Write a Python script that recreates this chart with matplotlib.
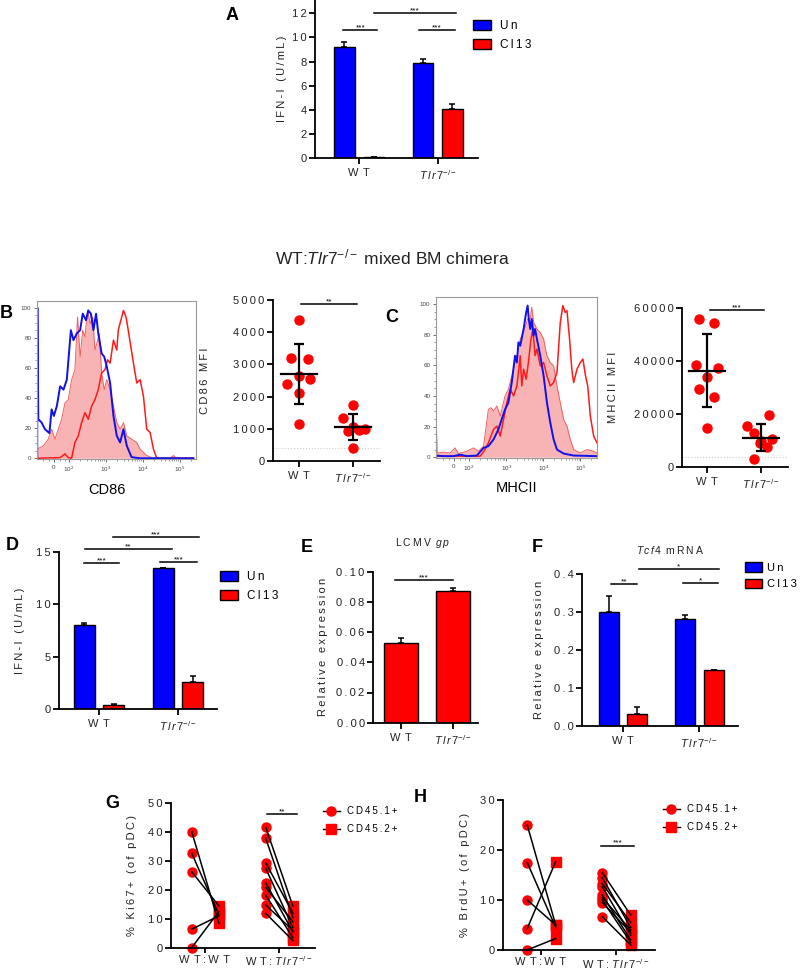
import numpy as np
import matplotlib
matplotlib.use('Agg')
import matplotlib.pyplot as plt
import matplotlib.transforms as mtransforms
from matplotlib.ticker import FuncFormatter
from matplotlib.lines import Line2D
from matplotlib.patches import Patch

plt.rcParams['font.family'] = ['Liberation Sans', 'DejaVu Sans']
plt.rcParams['mathtext.fontset'] = 'custom'
plt.rcParams['mathtext.rm'] = 'Liberation Sans'
plt.rcParams['mathtext.it'] = 'Liberation Sans:italic'
plt.rcParams['mathtext.bf'] = 'Liberation Sans:bold'

BLUE = '#0000ff'
RED = '#ff0000'
TS = '\u2009'
KO = r'$\mathit{T\,l\,r\,7}^{-/-}$'
WT = 'W' + TS + TS + 'T'


def sp(s):
    # GraphPad-style letter spacing
    return TS.join(s)


# ---- data ----
groups = [WT, KO]
pair_groups = [WT + TS + ':' + TS + WT, WT + TS + ':' + TS + KO]

# A: IFN-I (U/mL)
a_un, a_un_err = [9.2, 7.9], [0.4, 0.3]
a_cl, a_cl_err = [0.05, 4.1], [0.03, 0.35]

# B / C flow histograms (x in decades of biexponential axis, y in % of max)
cd86_blue_x = [1.14, 1.145, 1.17, 1.26, 1.35, 1.47, 1.53, 1.59, 1.67, 1.76, 1.85, 1.94, 2.05, 2.12, 2.21, 2.30,
               2.37, 2.46, 2.52, 2.59, 2.66, 2.73, 2.79, 2.88, 2.95, 3.02, 3.11, 3.20, 3.29, 3.38, 3.47, 3.56,
               3.69, 3.92, 5.36]
cd86_blue_y = [0, 100, 25.9, 23.7, 19.3, 16.7, 32.5, 28.1, 34.6, 47.8, 45.6, 52.2, 85.1, 78.5, 82.9, 85.1,
               96.1, 91.7, 98.2, 96.1, 85.1, 96.1, 82.9, 69.7, 67.5, 61.0, 50.0, 28.1, 14.9, 10.5, 19.3, 8.3,
               0.7, 0, 0]
cd86_fill_x = [1.14, 1.31, 1.44, 1.53, 1.62, 1.71, 1.80, 1.89, 1.98, 2.07, 2.16, 2.23, 2.30, 2.37, 2.43, 2.50,
               2.57, 2.64, 2.70, 2.75, 2.82, 2.88, 2.95, 3.02, 3.11, 3.20, 3.29, 3.38, 3.47, 3.56, 3.69, 3.83,
               3.92, 4.10, 4.28, 4.73, 4.82, 4.91, 5.36]
cd86_fill_y = [6.1, 8.3, 12.7, 19.3, 12.7, 19.3, 25.9, 36.8, 39.0, 52.2, 58.8, 93.9, 67.5, 85.1, 80.7, 98.2,
               89.5, 93.9, 71.9, 76.3, 82.9, 56.6, 45.6, 52.2, 45.6, 34.6, 23.7, 19.3, 23.7, 14.9, 12.7, 10.5,
               6.1, 1.8, 0, 0, 1.8, 0, 0]
cd86_red_x = [1.14, 1.76, 1.89, 1.98, 2.07, 2.16, 2.25, 2.34, 2.43, 2.52, 2.61, 2.70, 2.79, 2.88, 2.97, 3.04,
              3.11, 3.20, 3.29, 3.33, 3.40, 3.47, 3.54, 3.60, 3.67, 3.74, 3.83, 3.92, 4.01, 4.10, 4.19, 4.28,
              4.37, 5.36]
cd86_red_y = [0, 0.4, 2.9, 0.4, 0, 10.5, 14.9, 23.7, 30.3, 25.9, 34.6, 39.0, 45.6, 56.6, 58.8, 65.4,
              63.2, 78.5, 71.9, 85.1, 91.7, 98.2, 93.9, 85.1, 74.1, 63.2, 50.0, 52.2, 41.2, 19.3, 17.1, 6.1,
              0, 0]

mhc_blue_x = [1.11, 1.31, 1.58, 1.76, 1.94, 2.21, 2.39, 2.52, 2.66, 2.79, 2.88, 2.97, 3.06, 3.15, 3.24, 3.29,
              3.33, 3.38, 3.47, 3.54, 3.58, 3.61, 3.65, 3.69, 3.74, 3.78, 3.83, 3.92, 4.01, 4.10, 4.19, 4.28,
              4.37, 4.55, 4.82, 5.45]
mhc_blue_y = [1.1, 0.7, 0.7, 1.7, 0.7, 1.1, 6.1, 7.2, 11.6, 18.1, 24.7, 31.2, 35.6, 48.7, 66.2, 61.8,
              74.9, 72.7, 83.6, 94.5, 98.9, 90.2, 83.6, 90.2, 79.3, 83.6, 77.1, 66.2, 53.1, 35.6, 22.5, 11.6,
              5.0, 2.4, 1.1, 0.7]
mhc_fill_x = [1.11, 1.14, 1.31, 1.49, 1.62, 1.71, 1.94, 2.12, 2.25, 2.39, 2.52, 2.59, 2.66, 2.75, 2.84, 2.97,
              3.06, 3.20, 3.29, 3.38, 3.47, 3.58, 3.65, 3.69, 3.74, 3.83, 3.92, 4.01, 4.10, 4.19, 4.28, 4.37,
              4.46, 4.55, 4.64, 4.73, 4.82, 5.00, 5.18, 5.36, 5.45]
mhc_fill_y = [26.9, 2.8, 3.3, 2.8, 6.1, 2.4, 3.9, 6.1, 3.9, 7.2, 31.2, 32.3, 30.1, 33.4, 26.9, 40.0,
              44.3, 57.4, 66.2, 77.1, 81.4, 90.2, 90.2, 97.8, 88.0, 83.6, 81.4, 77.1, 66.2, 61.8, 59.6, 46.5,
              35.6, 24.7, 20.3, 11.6, 5.0, 2.8, 5.0, 3.9, 2.8]
mhc_red_x = [1.11, 2.30, 2.43, 2.52, 2.66, 2.75, 2.84, 2.93, 3.02, 3.11, 3.20, 3.29, 3.38, 3.42, 3.47, 3.54,
             3.60, 3.67, 3.72, 3.78, 3.83, 3.92, 4.01, 4.10, 4.19, 4.28, 4.37, 4.46, 4.53, 4.59, 4.64, 4.71,
             4.77, 4.82, 4.91, 5.00, 5.07, 5.14, 5.20, 5.27, 5.36, 5.45]
mhc_red_y = [0.7, 0.7, 5.0, 9.4, 18.1, 20.3, 13.8, 24.7, 35.6, 44.3, 40.0, 46.5, 66.2, 46.5, 57.4, 50.9,
             61.8, 77.1, 83.6, 66.2, 70.5, 59.6, 61.8, 53.1, 46.5, 48.7, 55.2, 88.0, 98.9, 94.5, 95.6, 77.1,
             57.4, 48.7, 57.4, 61.8, 64.0, 53.1, 46.5, 26.9, 13.8, 9.4]

# B / C MFI dot plots
cd86_wt = [4380, 3190, 3160, 2650, 2390, 2550, 2120, 1140]
cd86_ko = [1740, 1320, 1060, 950, 920, 990, 400]
mhc_wt = [56000, 54500, 38500, 37500, 34100, 29400, 26300, 14700]
mhc_ko = [19700, 15500, 12800, 10500, 9800, 9000, 7500, 3100]
cd86_jit = [[0, -0.14, 0.17, 0, -0.22, 0.2, 0, 0], [0, -0.19, 0, 0.12, -0.09, 0.22, 0]]
mhc_jit = [[-0.14, 0.14, -0.21, 0.2, 0, -0.14, 0.13, 0], [0.14, -0.26, -0.12, 0.2, 0.0, -0.02, 0.11, -0.12]]

# D: IFN-I
d_un, d_un_err = [8.0, 13.5], [0.2, 0.0]
d_cl, d_cl_err = [0.35, 2.6], [0.1, 0.6]

# E: LCMV gp
e_vals, e_err = [0.0529, 0.0874], [0.003, 0.0015]

# F: Tcf4 mRNA
f_un, f_un_err = [0.300, 0.281], [0.042, 0.011]
f_cl, f_cl_err = [0.032, 0.147], [0.019, 0.0015]

# G: % Ki67+ paired (CD45.1+ -> CD45.2+)
g_wt_1 = [40.2, 32.7, 26.3, 6.4, 0.0]
g_wt_2 = [8.5, 11.5, 14.5, 11.0, 12.5]
g_ko_1 = [41.7, 37.9, 29.4, 27.5, 22.5, 20.9, 18.2, 14.8, 11.9]
g_ko_2 = [14.5, 10.5, 12.0, 7.0, 5.5, 9.0, 3.5, 6.0, 2.5]

# H: % BrdU+ paired
h_wt_1 = [25.0, 17.5, 10.0, 4.3, 0.0]
h_wt_2 = [5.0, 4.5, 5.0, 17.7, 2.3]
h_ko_1 = [15.5, 14.5, 13.3, 12.7, 11.0, 10.5, 10.0, 9.5, 6.7]
h_ko_2 = [7.0, 4.5, 5.5, 3.0, 2.0, 4.0, 1.5, 3.5, 1.0]

# ---- figure ----
W, H = 800, 969
fig = plt.figure(figsize=(W / 100, H / 100), dpi=100)


def px_axes(l, t, r, b):
    return fig.add_axes([l / W, 1 - b / H, (r - l) / W, (b - t) / H])


def prism(ax, fmt='%d'):
    for s in ['top', 'right']:
        ax.spines[s].set_visible(False)
    for s in ['left', 'bottom']:
        ax.spines[s].set_linewidth(1.3)
    ax.tick_params(width=1.3, length=4, labelsize=8, labelcolor='#222222')
    ax.tick_params(axis='y', pad=2)
    ax.yaxis.set_major_formatter(FuncFormatter(lambda v, p: sp(fmt % v)))


def ylab(ax, text, xpx, size=8):
    ax.set_ylabel(text, fontsize=size, color='#222222')
    tr = mtransforms.blended_transform_factory(fig.transFigure, ax.transAxes)
    ax.yaxis.set_label_coords(xpx / W, 0.5, transform=tr)


def sig(ax, x0, x1, y, stars):
    ax.plot([x0, x1], [y, y], color='black', lw=1.1, clip_on=False)
    ax.annotate(stars, ((x0 + x1) / 2, y), xytext=(0, -1), textcoords='offset points',
                ha='center', va='bottom', fontsize=6, annotation_clip=False)


def grouped(ax, un, un_err, cl, cl_err, off=0.186, w=0.26):
    x = np.arange(len(un))
    ek = dict(capsize=2.5, elinewidth=1.1, capthick=1.1, ecolor='black')
    ax.bar(x - off, un, w, color=BLUE, edgecolor='black', lw=1, label='Un',
           yerr=[np.zeros(len(un)), un_err], error_kw=ek)
    ax.bar(x + off, cl, w, color=RED, edgecolor='black', lw=1, label='Cl13',
           yerr=[np.zeros(len(cl)), cl_err], error_kw=ek)
    ax.set_xticks(x)
    ax.set_xticklabels(groups)


def px_legend(handles, labels, x, y, size, **kw):
    fig.legend(handles, labels, loc='upper left', bbox_to_anchor=(x / W, 1 - y / H),
               frameon=False, fontsize=size, borderpad=0, borderaxespad=0, **kw)


def bar_legend(x, y, size=8.5, pad=0.8):
    hs = [Patch(facecolor=BLUE, edgecolor='black', lw=1), Patch(facecolor=RED, edgecolor='black', lw=1)]
    px_legend(hs, [sp('Un'), sp('Cl13')], x, y, size, handlelength=1.5, handleheight=0.95,
              handletextpad=pad, labelspacing=0.55)


def pair_legend(x, y):
    hs = [Line2D([], [], color='black', lw=1, marker='o', mfc=RED, mec=RED, ms=6.5),
          Line2D([], [], color='black', lw=1, marker='s', mfc=RED, mec=RED, ms=6.5)]
    px_legend(hs, [sp('CD45.1+'), sp('CD45.2+')], x, y, 7, handlelength=1.7, handletextpad=0.8,
              labelspacing=0.85)


def flow(ax, fx, fy, bx, by, rx, ry, xl):
    ax.fill_between(fx, fy, 0, color='#f8b4b4', lw=0)
    ax.plot(fx, fy, color='#f06060', lw=0.7)
    ax.plot(rx, ry, color='#ff1a1a', lw=1.1)
    ax.plot(bx, by, color='#1010ee', lw=1.4)
    ax.set_xlim(*xl)
    ax.set_ylim(-0.5, 104.5)
    for s in ax.spines.values():
        s.set_color('#9a9a9a')
        s.set_linewidth(0.8)
    ax.set_yticks([0, 20, 40, 60, 80, 100])
    ax.set_yticks(np.arange(0, 101, 5), minor=True)
    ax.set_xticks([1.59, 2, 3, 4, 5])
    ax.set_xticklabels(['0', '$10^2$', '$10^3$', '$10^4$', '$10^5$'])
    minors = [d + np.log10(k) for d in (2, 3, 4) for k in range(2, 10)] + [1.3, 1.45, 1.75, 1.88, 5.3]
    ax.set_xticks(minors, minor=True)
    ax.tick_params(labelsize=4.5, length=2.5, width=0.6, color='#555555', labelcolor='#444444', pad=1.5)
    ax.tick_params(which='minor', length=1.5, width=0.5, color='#777777')


def dots(ax, data, jit):
    for i, (vals, j) in enumerate(zip(data, jit)):
        vals = np.asarray(vals, float)
        ax.plot(i + np.asarray(j), vals, 'o', color=RED, ms=6.5, zorder=2, clip_on=False)
        m, s = vals.mean(), vals.std(ddof=1)
        ax.plot([i - 0.33, i + 0.33], [m, m], color='black', lw=1.6, zorder=3)
        ax.errorbar(i, m, yerr=s, fmt='none', ecolor='black', capsize=3.5, elinewidth=1.6,
                    capthick=1.6, zorder=3)
    ax.set_xticks([0, 1])
    ax.set_xticklabels(groups)


def paired(ax, firsts, seconds, xa=-0.18, xb=0.19):
    for i, (a, b) in enumerate(zip(firsts, seconds)):
        for ya, yb in zip(a, b):
            ax.plot([i + xa, i + xb], [ya, yb], color='black', lw=1.1, zorder=3)
        ax.plot([i + xa] * len(a), a, 'o', color=RED, ms=6.5, zorder=2, clip_on=False)
        ax.plot([i + xb] * len(b), b, 's', color=RED, ms=6.5, zorder=2, clip_on=False)
    ax.set_xticks([0, 1])
    ax.set_xticklabels(pair_groups)
    ax.tick_params(axis='x', pad=1.5, length=3.5)


# A
ax = px_axes(315, 0, 478, 158)
prism(ax)
grouped(ax, a_un, a_un_err, a_cl, a_cl_err)
ax.set_xlim(-0.56, 1.51)
ax.set_ylim(0, 13.1)
ax.set_yticks(range(0, 13, 2))
ylab(ax, sp('IFN-I (U/mL)'), 287)
sig(ax, -0.2, 0.23, 10.65, '***')
sig(ax, 0.76, 1.22, 10.65, '***')
sig(ax, 0.19, 1.23, 12.0, '***')
bar_legend(473, 20)

fig.text(392 / W, 1 - 257 / H, r'WT:$\mathit{Tlr7}^{-/-}$ mixed BM chimera', ha='center', va='center',
         fontsize=12.5, color='#222222')

# B histogram
ax = px_axes(37, 301, 196, 459)
flow(ax, cd86_fill_x, cd86_fill_y, cd86_blue_x, cd86_blue_y, cd86_red_x, cd86_red_y, (1.135, 5.43))
fig.text(107 / W, 1 - 490 / H, 'CD86', ha='center', va='center', fontsize=10.5)

# B dots
ax = px_axes(273, 300, 380, 461)
prism(ax)
dots(ax, [cd86_wt, cd86_ko], cd86_jit)
ax.set_xlim(-0.48, 1.5)
ax.set_ylim(0, 5000)
ax.set_yticks(range(0, 5001, 1000))
ax.axhline(400, color='#cccccc', lw=0.8, ls=':', zorder=1)
ylab(ax, sp('CD86 MFI'), 210)
sig(ax, 0.04, 1.07, 4880, '**')

# C histogram
ax = px_axes(436, 297, 597, 458)
flow(ax, mhc_fill_x, mhc_fill_y, mhc_blue_x, mhc_blue_y, mhc_red_x, mhc_red_y, (1.108, 5.45))
fig.text(517 / W, 1 - 488 / H, 'MHCII', ha='center', va='center', fontsize=10.5)

# C dots
ax = px_axes(682, 308, 788, 467)
prism(ax)
dots(ax, [mhc_wt, mhc_ko], mhc_jit)
ax.set_xlim(-0.46, 1.5)
ax.set_ylim(0, 60000)
ax.set_yticks(range(0, 60001, 20000))
ax.axhline(3600, color='#cccccc', lw=0.8, ls=':', zorder=1)
ylab(ax, sp('MHCII MFI'), 618)
sig(ax, 0.05, 1.05, 59100, '***')

# D
ax = px_axes(59, 552, 217, 709)
prism(ax)
grouped(ax, d_un, d_un_err, d_cl, d_cl_err)
ax.set_xlim(-0.506, 1.494)
ax.set_ylim(0, 15)
ax.set_yticks([0, 5, 10, 15])
ylab(ax, sp('IFN-I (U/mL)'), 25)
sig(ax, -0.19, 0.25, 13.97, '***')
sig(ax, -0.18, 0.92, 15.3, '**')
sig(ax, 0.18, 1.27, 16.4, '***')
sig(ax, 0.77, 1.24, 14.0, '***')
bar_legend(220, 571)

# E
ax = px_axes(373, 571.7, 478, 722.7)
prism(ax, '%.2f')
ax.bar([0, 1], e_vals, 0.66, color=RED, edgecolor='black', lw=1,
       yerr=[[0, 0], e_err], error_kw=dict(capsize=2.5, elinewidth=1.1, capthick=1.1))
ax.set_xticks([0, 1])
ax.set_xticklabels(groups)
ax.set_xlim(-0.54, 1.49)
ax.set_ylim(0, 0.10)
ax.set_yticks(np.arange(0, 0.101, 0.02))
ylab(ax, sp('Relative expression'), 328)
sig(ax, -0.12, 1.0, 0.0945, '***')
fig.text(422 / W, 1 - 543 / H, sp('LCMV ') + r'$\mathit{g\,p}$', ha='center', va='center', fontsize=7.5,
         color='#222222')

# F
ax = px_axes(582, 574.3, 738, 726)
prism(ax, '%.1f')
grouped(ax, f_un, f_un_err, f_cl, f_cl_err)
ax.set_xlim(-0.54, 1.505)
ax.set_ylim(0, 0.4)
ax.set_yticks([0, 0.1, 0.2, 0.3, 0.4])
ylab(ax, sp('Relative expression'), 544)
sig(ax, -0.16, 0.18, 0.375, '**')
sig(ax, 0.21, 1.25, 0.413, '*')
sig(ax, 0.78, 1.24, 0.378, '*')
bar_legend(745, 562, size=8, pad=0.5)
fig.text(670 / W, 1 - 550 / H, r'$\mathit{T\,c\,f\,4}$' + sp(' mRNA'), ha='center', va='center',
         fontsize=7.5, color='#222222')

# G
ax = px_axes(170.7, 803.3, 315, 947.7)
prism(ax)
paired(ax, [g_wt_1, g_ko_1], [g_wt_2, g_ko_2], -0.176, 0.19)
ax.set_xlim(-0.46, 1.49)
ax.set_ylim(0, 50)
ax.set_yticks(range(0, 51, 10))
ylab(ax, sp('% Ki67+ (of pDC)'), 137)
sig(ax, 0.84, 1.24, 46.2, '**')
pair_legend(323, 806)

# H
ax = px_axes(502.7, 800, 655, 950)
prism(ax)
paired(ax, [h_wt_1, h_ko_1], [h_wt_2, h_ko_2], -0.18, 0.2)
ax.set_xlim(-0.507, 1.524)
ax.set_ylim(0, 30)
ax.set_yticks([0, 10, 20, 30])
ylab(ax, sp('% BrdU+ (of pDC)'), 470)
sig(ax, 0.81, 1.25, 20.9, '***')
pair_legend(663, 804)

# panel letters
for lab, x, y in [('A', 232, 15), ('B', 6, 313), ('C', 392, 317), ('D', 12, 545), ('E', 307, 547),
                  ('F', 537, 547), ('G', 112, 804), ('H', 420, 798)]:
    fig.text(x / W, 1 - y / H, lab, ha='center', va='center', fontsize=13, fontweight='bold')

fig.savefig('out.png', dpi=100)
